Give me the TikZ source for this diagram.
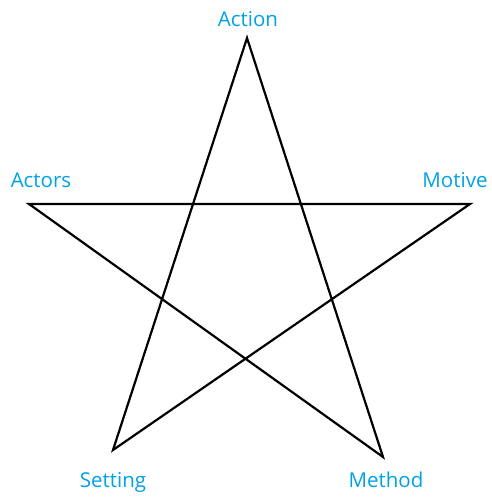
\documentclass[tikz,border=0pt]{standalone}
\usepackage{fontspec}
\setmainfont{Open Sans}
\usetikzlibrary{positioning}
\definecolor{labelblue}{RGB}{0,162,228}
\begin{document}
\begin{tikzpicture}[x=1pt, y=-1pt]
  \useasboundingbox (0,0) rectangle (491,497);
  \tikzset{point label/.style={labelblue, anchor=base, inner sep=0pt,
      font=\fontsize{20.5}{20.5}\selectfont}}
  % star points
  \coordinate (action) at (247,38);
  \coordinate (actors) at (29,204);
  \coordinate (motive) at (470,204);
  \coordinate (setting) at (113,450);
  \coordinate (method) at (383,457);
  % star
  \draw[line width=2.2pt] (action) -- (setting) -- (motive) -- (actors)
    -- (method) -- cycle;
  % labels
  \node[point label] (actionlabel) at (248,27) {Action};
  \node[point label] (actorslabel) at (41,187) {Actors};
  \node[point label] (motivelabel) at (455,187) {Motive};
  \node[point label] (settinglabel) at (113,487) {Setting};
  \node[point label] (methodlabel) at (386,487) {Method};
\end{tikzpicture}
\end{document}
